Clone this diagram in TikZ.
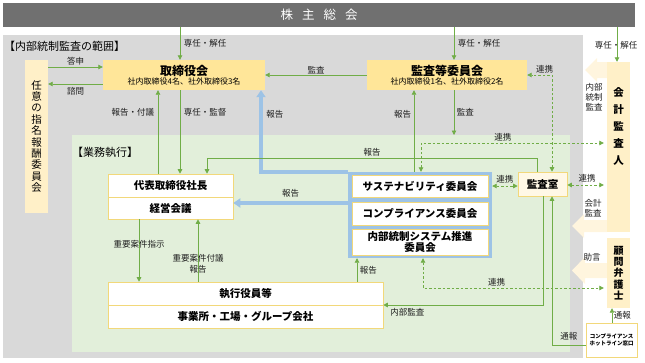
\documentclass[tikz,border=0pt]{standalone}
\usepackage{fontspec}
\setmainfont{Noto Sans CJK JP}
\usetikzlibrary{arrows.meta,positioning,calc}
\definecolor{greyband}{RGB}{112,112,112}
\definecolor{scopegrey}{RGB}{217,217,217}
\definecolor{execgreen}{RGB}{226,239,218}
\definecolor{boardyel}{RGB}{255,230,153}
\definecolor{paleyel}{RGB}{255,240,200}
\definecolor{palearrow}{RGB}{255,245,222}
\definecolor{boxedge}{RGB}{242,216,122}
\definecolor{arrowgreen}{RGB}{112,173,71}
\definecolor{frameblue}{RGB}{157,195,230}
\definecolor{labeltext}{RGB}{30,30,30}

\begin{document}
\begin{tikzpicture}[x=1pt,y=-1pt,font=\fontsize{8.5}{10}\selectfont,
  >={Triangle[length=4.5pt,width=4.5pt]},
  govbox/.style={fill=boardyel,inner sep=0pt,align=center},
  unitbox/.style={fill=white,draw=boxedge,line width=0.6pt,inner sep=0pt,align=center,
    font=\bfseries\fontsize{10.5}{11.5}\selectfont},
  sidebox/.style={fill=paleyel,inner sep=0pt,align=center},
  flow/.style={draw=arrowgreen,line width=0.8pt,->},
  link/.style={draw=arrowgreen,line width=0.8pt,dash pattern=on 2.5pt off 2pt,<->},
  blueflow/.style={draw=frameblue,line width=3.5pt},
  lbl/.style={inner sep=0.5pt,text=labeltext}]

\useasboundingbox (0,0) rectangle (645,362);

% areas
\node[fill=scopegrey,minimum width=580pt,minimum height=323pt,anchor=north west,inner sep=0pt] (scope) at (3,35) {};
\node[fill=execgreen,minimum width=498pt,minimum height=217pt,anchor=north west,inner sep=0pt] (execarea) at (72,135) {};
\node[fill=greyband,minimum width=632pt,minimum height=24pt,inner sep=0pt,text=white,
  font=\fontsize{12.5}{14}\selectfont] (sh) at (319,15) {株\hspace{9pt}主\hspace{9pt}総\hspace{9pt}会};
\node[anchor=west,inner sep=0pt,font=\fontsize{11}{12}\selectfont] (scopelbl) at (4,46) {【内部統制監査の範囲】};
\node[anchor=west,inner sep=0pt,font=\fontsize{11}{12}\selectfont] (execlbl) at (72,152) {【業務執行】};

% governance
\node[govbox,minimum width=162pt,minimum height=30pt] (board) at (184,75)
  {{\bfseries\fontsize{12}{13}\selectfont 取締役会}\\[-1pt]{\fontsize{8}{9}\selectfont 社内取締役4名、社外取締役3名}};
\node[govbox,minimum width=160pt,minimum height=30pt] (auditcom) at (447,75)
  {{\bfseries\fontsize{12}{13}\selectfont 監査等委員会}\\[-1pt]{\fontsize{8}{9}\selectfont 社内取締役1名、社外取締役2名}};
\node[sidebox,minimum width=23pt,minimum height=153pt,font=\fontsize{10.5}{11.4}\selectfont] (nomcom) at (36.5,136.5)
  {任\\意\\の\\指\\名\\報\\酬\\委\\員\\会};

% execution
\node[unitbox,minimum width=125pt,minimum height=23pt] (ceo) at (170.5,185.5) {代表取締役社長};
\node[unitbox,minimum width=125pt,minimum height=22pt] (mgmt) at (170.5,208) {経営会議};
\node[unitbox,minimum width=275pt,minimum height=23pt] (exec) at (245.5,293.5) {執行役員等};
\node[unitbox,minimum width=275pt,minimum height=23pt] (offices) at (245.5,316.5) {事業所・工場・グループ会社};

\node[fill=frameblue,minimum width=144pt,minimum height=86pt,inner sep=0pt] (panel) at (420,215) {};
\node[unitbox,minimum width=136pt,minimum height=22pt] (sus) at (420,186) {サステナビリティ委員会};
\node[unitbox,minimum width=136pt,minimum height=23pt] (comp) at (420,213.5) {コンプライアンス委員会};
\node[unitbox,minimum width=136pt,minimum height=26pt] (ics) at (420,242) {内部統制システム推進\\委員会};
\node[unitbox,fill=paleyel!45,minimum width=49pt,minimum height=24pt] (auditroom) at (542.5,184) {監査室};

% outside parties
\fill[palearrow] (607,62) -- (597,62) -- (597,58) -- (585,70) -- (597,82) -- (597,78) -- (607,78) -- cycle;
\fill[palearrow] (607,220) -- (584,220) -- (584,214) -- (572,226) -- (584,238) -- (584,232) -- (607,232) -- cycle;
\fill[palearrow] (607,263) -- (585,263) -- (585,257) -- (572,270.5) -- (585,284) -- (585,278) -- (607,278) -- cycle;
\node[sidebox,minimum width=23pt,minimum height=170pt] (accaud) at (618.5,147) {};
\node[inner sep=0pt,align=center,font=\bfseries\fontsize{10.5}{17}\selectfont] (accaudtxt) at (618.5,126) {会\\計\\監\\査\\人};
\node[sidebox,minimum width=23pt,minimum height=70pt,font=\bfseries\fontsize{10}{11.3}\selectfont] (lawyer) at (618.5,273)
  {顧\\問\\弁\\護\\士};
\node[unitbox,minimum width=51pt,minimum height=34pt,font=\bfseries\fontsize{5.5}{7.5}\selectfont] (hotline) at (611.5,340)
  {コンプライアンス\\ホットライン窓口};
\node[lbl,align=center] (intaudlbl) at (594,97) {内部\\統制\\監査};
\node[lbl,align=center] (accaudlbl) at (593,208) {会計\\監査};
\node[lbl] (advicelbl) at (592,257) {助言};

% connectors
\draw[flow] (180,0 |- sh.south) -- (180,0 |- board.north) node[lbl,midway,right=3pt]{専任・解任};
\draw[flow] (454,0 |- sh.south) -- (454,0 |- auditcom.north) node[lbl,midway,right=3pt]{専任・解任};
\node[lbl] (accaudsel) at (616,45) {専任・解任};
\draw[flow] (617,0 |- sh.south) -- (617,0 |- accaud.north);

\draw[flow] (nomcom.east |- 0,67) -- (board.west |- 0,67) node[lbl,midway,above=1pt]{答申};
\draw[flow] (board.west |- 0,84) -- (nomcom.east |- 0,84) node[lbl,midway,below=2pt]{諮問};
\draw[flow] (auditcom.west) -- (board.east) node[lbl,midway,above=0pt]{監査};

\draw[flow] (180,0 |- board.south) -- (180,0 |- ceo.north) node[lbl,pos=0.26,right=3pt]{専任・監督};
\draw[flow] (158,0 |- ceo.north) -- (158,0 |- board.south) node[lbl,pos=0.74,left=3pt]{報告・付議};

\draw[blueflow,-{Triangle[length=7pt,width=9pt]}] (panel.north west) -- (261,0 |- panel.north west)
  -- node[lbl,pos=0.7,right=3pt]{報告} (261,0 |- board.south);
\draw[blueflow,-{Triangle[length=7pt,width=9pt]}] (panel.west |- 0,203) -- (mgmt.east |- 0,203)
  node[lbl,midway,above=3pt]{報告};

\draw[flow] (414,0 |- panel.north) -- (414,0 |- auditcom.south) node[lbl,pos=0.7,left=2pt]{報告};
\draw[flow] (454,0 |- auditcom.south) -- (454,0 |- execarea.north) node[lbl,midway,right=2pt]{監査};
\draw[flow] (537,0 |- auditroom.north) -- (537,158) -- node[lbl,midway,above=1pt]{報告} (207,158) -- (207,0 |- ceo.north);

\draw[link,shorten >=3pt] (421,0 |- panel.north) -- (421,143) -- node[lbl,pos=0.44,above=1pt]{連携} (accaud.west |- 0,143);
\draw[link] (552,0 |- auditroom.north) -- (552,75) -- node[lbl,pos=0.3,above=1pt]{連携} (auditcom.east |- 0,75);
\draw[link] (panel.east |- 0,186) -- (auditroom.west |- 0,186) node[lbl,midway,above=2pt]{連携};
\draw[link,shorten >=3pt] (auditroom.east |- 0,185) -- (accaud.west |- 0,185) node[lbl,midway,above=2pt]{連携};
\draw[link,shorten >=3pt] (423,0 |- panel.south) -- (423,288) -- node[lbl,pos=0.4,above=1pt]{連携} (lawyer.west |- 0,288);

\draw[flow] (139,0 |- mgmt.south) -- (139,0 |- exec.north) node[lbl,pos=0.4]{重要案件指示};
\draw[flow] (198,0 |- exec.north) -- (198,0 |- mgmt.south) node[lbl,pos=0.28,align=center,font=\fontsize{8.5}{11}\selectfont]{重要案件付議\\報告};
\draw[flow] (357,0 |- exec.north) -- (357,0 |- panel.south) node[lbl,midway,right=2pt]{報告};
\draw[flow] (543,0 |- auditroom.south) -- (543,305) -- node[lbl,pos=0.85,below=2pt]{内部監査} (exec.east |- 0,305);
\draw[flow] (hotline.west |- 0,345) -- node[lbl,midway,above=4pt]{通報} (552,345) -- (552,0 |- auditroom.south);
\draw[flow] (612,0 |- hotline.north) -- (612,0 |- lawyer.south) node[lbl,midway,right=1pt]{通報};
\end{tikzpicture}
\end{document}
